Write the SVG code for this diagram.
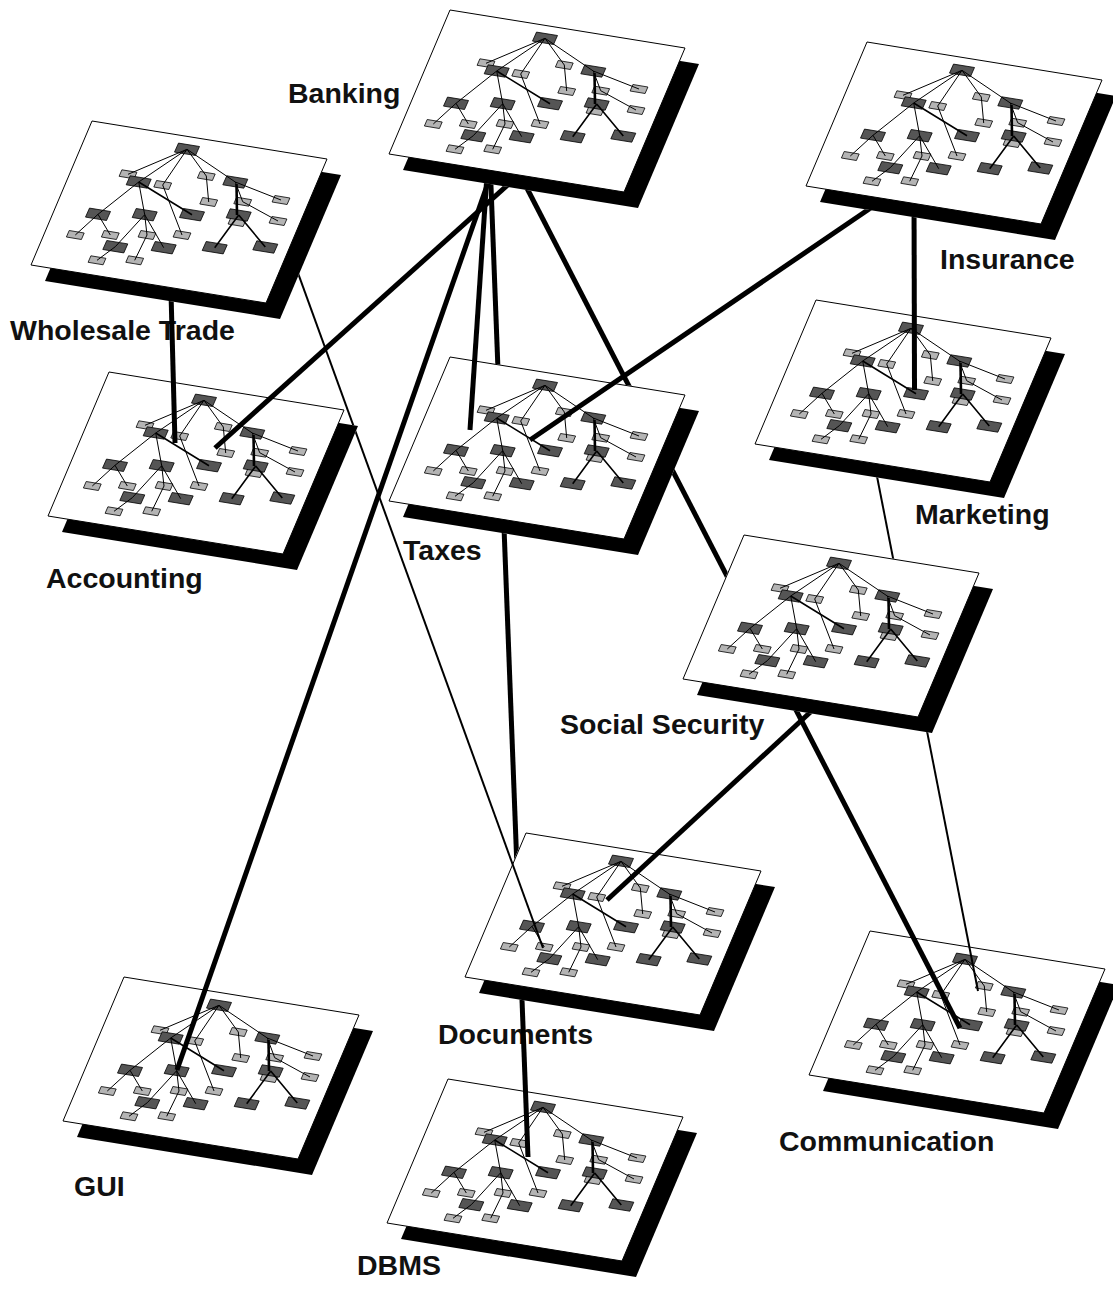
<svg xmlns="http://www.w3.org/2000/svg" xmlns:xlink="http://www.w3.org/1999/xlink" width="1113" height="1293" viewBox="0 0 1113 1293">
  <style>
    .sheet { fill: #fff; stroke: #000; stroke-width: 1; }
    .shadow { fill: #000; }
    .dk { fill: #555; stroke: #000; stroke-width: 0.8; }
    .lt { fill: #b4b4b4; stroke: #000; stroke-width: 0.8; }
    .e { stroke: #000; stroke-width: 1; fill: none; }
    .e2 { stroke: #000; stroke-width: 1.6; fill: none; }
    .e3 { stroke: #000; stroke-width: 2.6; fill: none; }
    .label { font-family: "Liberation Sans", Arial, Helvetica, sans-serif; font-weight: bold; font-size: 28.5px; fill: #111; }
    .wire { stroke: #000; fill: none; stroke-linecap: butt; }
    .thick { stroke-width: 5; }
    .thin { stroke-width: 2; }
  </style>
  <defs>
    <!-- slanted box shapes for tree members -->
    <polygon id="dn" points="-8.5,-6.2 12.5,-2.8 8.5,6.2 -12.5,2.8"/>
    <polygon id="ln" points="-6.1,-4.5 8.9,-2 6.1,4.5 -8.9,2"/>

    <!-- one hierarchy, drawn in sheet-local coordinates -->
    <g id="tree">
      <use href="#ln" x="36" y="53.3" class="lt"/>
      <use href="#dn" x="46.7" y="61" class="dk"/>
      <use href="#ln" x="70.7" y="64" class="lt"/>
      <use href="#ln" x="114.3" y="55" class="lt"/>
      <use href="#dn" x="143.3" y="61" class="dk"/>
      <use href="#ln" x="116.7" y="81" class="lt"/>
      <use href="#ln" x="150.7" y="80.7" class="lt"/>
      <use href="#ln" x="189" y="79" class="lt"/>
      <use href="#dn" x="6" y="93.3" class="dk"/>
      <use href="#dn" x="52.7" y="93.7" class="dk"/>
      <use href="#dn" x="100" y="93.7" class="dk"/>
      <use href="#ln" x="145" y="101" class="lt"/>
      <use href="#dn" x="146.7" y="94" class="dk"/>
      <use href="#ln" x="186" y="100" class="lt"/>
      <use href="#ln" x="-16.7" y="114" class="lt"/>
      <use href="#ln" x="18.3" y="114" class="lt"/>
      <use href="#ln" x="55" y="114" class="lt"/>
      <use href="#ln" x="90" y="114" class="lt"/>
      <use href="#dn" x="23.3" y="125.7" class="dk"/>
      <use href="#dn" x="71.7" y="126.7" class="dk"/>
      <use href="#dn" x="122.7" y="126.7" class="dk"/>
      <use href="#dn" x="173.3" y="126" class="dk"/>
      <use href="#ln" x="5" y="139.3" class="lt"/>
      <use href="#ln" x="42.7" y="139.3" class="lt"/>
      <use href="#dn" x="95" y="28.3" class="dk"/>
      <path class="e" d="M95,28.3 L36,53.3 M95,28.3 L46.7,61 M95,28.3 L70.7,64 M95,28.3 L114.3,55 M95,28.3 L143.3,61
        M114.3,55 L116.7,81 M46.7,61 L6,93.3 M46.7,61 L52.7,93.7 M70.7,64 L90,114
        M143.3,61 L150.7,80.7 M143.3,61 L189,79 M150.7,80.7 L186,100
        M6,93.3 L-16.7,114 M6,93.3 L18.3,114 M52.7,93.7 L23.3,125.7 M52.7,93.7 L55,114 M52.7,93.7 L71.7,126.7
        M55,114 L42.7,139.3 M23.3,125.7 L5,139.3"/>
      <path class="e2" d="M46.7,61 L100,93.7 M146.7,94 L122.7,126.7 M146.7,94 L173.3,126"/>
      <path class="e3" d="M144.5,63 L145,94"/>
    </g>

    <!-- a sheet with its drop shadow and hierarchy -->
    <g id="sheet">
      <polygon class="shadow" points="14,16 249,54 188,198 -47,160"/>
      <polygon class="sheet" points="0,0 235,38 174,182 -61,144"/>
      <use href="#tree"/>
    </g>

    <!-- sheet outline used to hide connector parts that run beneath a sheet -->
    <g id="sil">
      <polygon points="14,16 249,54 188,198 -47,160"/>
      <polygon points="-0.5,-0.5 235.5,37.5 174.5,182.5 -61.5,144.5"/>
    </g>

    <mask id="mk-bank" maskUnits="userSpaceOnUse" x="0" y="0" width="1113" height="1293">
      <rect width="1113" height="1293" fill="#fff"/>
      <use href="#sil" x="450" y="10" fill="#000"/>
    </mask>
    <mask id="mk-bank-dbms" maskUnits="userSpaceOnUse" x="0" y="0" width="1113" height="1293">
      <rect width="1113" height="1293" fill="#fff"/>
      <use href="#sil" x="450" y="10" fill="#000"/>
      <use href="#sil" x="450" y="357" fill="#000"/>
      <use href="#sil" x="526" y="833" fill="#000"/>
    </mask>
    <mask id="mk-bank-comm" maskUnits="userSpaceOnUse" x="0" y="0" width="1113" height="1293">
      <rect width="1113" height="1293" fill="#fff"/>
      <use href="#sil" x="450" y="10" fill="#000"/>
      <use href="#sil" x="450" y="357" fill="#000"/>
      <use href="#sil" x="744" y="535" fill="#000"/>
    </mask>
    <mask id="mk-ins" maskUnits="userSpaceOnUse" x="0" y="0" width="1113" height="1293">
      <rect width="1113" height="1293" fill="#fff"/>
      <use href="#sil" x="867" y="42" fill="#000"/>
    </mask>
    <mask id="mk-mkt" maskUnits="userSpaceOnUse" x="0" y="0" width="1113" height="1293">
      <rect width="1113" height="1293" fill="#fff"/>
      <use href="#sil" x="816" y="300" fill="#000"/>
      <use href="#sil" x="744" y="535" fill="#000"/>
    </mask>
    <mask id="mk-whs" maskUnits="userSpaceOnUse" x="0" y="0" width="1113" height="1293">
      <rect width="1113" height="1293" fill="#fff"/>
      <use href="#sil" x="92" y="121" fill="#000"/>
    </mask>
    <mask id="mk-whs-doc" maskUnits="userSpaceOnUse" x="0" y="0" width="1113" height="1293">
      <rect width="1113" height="1293" fill="#fff"/>
      <use href="#sil" x="92" y="121" fill="#000"/>
      <use href="#sil" x="109" y="372" fill="#000"/>
    </mask>
    <mask id="mk-soc" maskUnits="userSpaceOnUse" x="0" y="0" width="1113" height="1293">
      <rect width="1113" height="1293" fill="#fff"/>
      <use href="#sil" x="744" y="535" fill="#000"/>
    </mask>
  </defs>

  <rect width="1113" height="1293" fill="#fff"/>

  <g id="banking"><use href="#sheet" x="450" y="10"/><text class="label" x="288" y="103">Banking</text></g>
  <g id="wholesale-trade"><use href="#sheet" x="92" y="121"/><text class="label" x="10" y="340">Wholesale Trade</text></g>
  <g id="insurance"><use href="#sheet" x="867" y="42"/><text class="label" x="940" y="269">Insurance</text></g>
  <g id="accounting"><use href="#sheet" x="109" y="372"/><text class="label" x="46" y="588">Accounting</text></g>
  <g id="taxes"><use href="#sheet" x="450" y="357"/><text class="label" x="403" y="560">Taxes</text></g>
  <g id="marketing"><use href="#sheet" x="816" y="300"/><text class="label" x="915" y="524">Marketing</text></g>
  <g id="social-security"><use href="#sheet" x="744" y="535"/><text class="label" x="560" y="734">Social Security</text></g>
  <g id="documents"><use href="#sheet" x="526" y="833"/><text class="label" x="438" y="1044">Documents</text></g>
  <g id="communication"><use href="#sheet" x="870" y="931"/><text class="label" x="779" y="1151">Communication</text></g>
  <g id="gui"><use href="#sheet" x="124" y="977"/><text class="label" x="74" y="1196">GUI</text></g>
  <g id="dbms"><use href="#sheet" x="448" y="1079"/><text class="label" x="357" y="1275">DBMS</text></g>

  <g id="connectors">
    <path class="wire thick" mask="url(#mk-whs)" d="M170,255 L175,443"/>
    <path class="wire thin" mask="url(#mk-whs-doc)" d="M286,240 L543,948"/>
    <path class="wire thick" mask="url(#mk-bank)" d="M530,165 L215,448"/>
    <path class="wire thick" mask="url(#mk-bank)" d="M496,160 L177,1070"/>
    <path class="wire thick" mask="url(#mk-bank)" d="M488,160 L470,430"/>
    <path class="wire thick" mask="url(#mk-bank-dbms)" d="M490,160 L528,1157"/>
    <path class="wire thick" mask="url(#mk-bank-comm)" d="M515,165 L960,1028"/>
    <path class="wire thick" mask="url(#mk-ins)" d="M900,188 L530,440"/>
    <path class="wire thick" mask="url(#mk-ins)" d="M914,190 L914.5,390"/>
    <path class="wire thin" mask="url(#mk-mkt)" d="M862,400 L978,991"/>
    <path class="wire thick" mask="url(#mk-soc)" d="M830,694 L607,900"/>
  </g>
</svg>
